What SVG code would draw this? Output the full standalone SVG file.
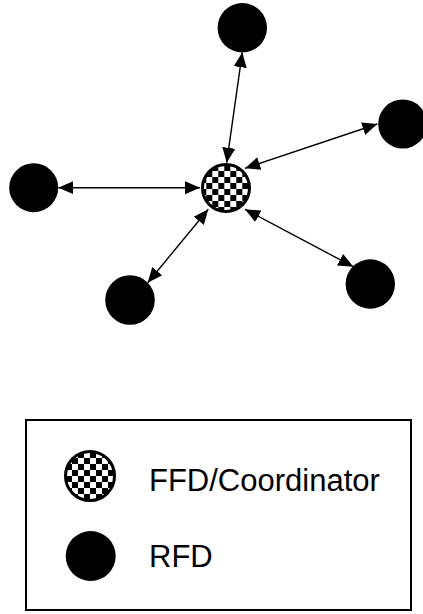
<svg xmlns="http://www.w3.org/2000/svg" width="423" height="614" viewBox="0 0 423 614">
<style>
.rfd{fill:#000}
.ffd{fill:url(#chk);stroke:#000;stroke-width:3}
.ffd2{fill:url(#chk2);stroke:#000;stroke-width:3}
.conn line{stroke:#000;stroke-width:1.4;marker-start:url(#ah);marker-end:url(#ah)}
.lbl{font-family:"Liberation Sans",Arial,sans-serif;font-size:31px;fill:#000}
</style>
<defs>
<pattern id="chk" patternUnits="userSpaceOnUse" x="212.3" y="165" width="12" height="12">
<rect width="12" height="12" fill="#fff"/>
<rect width="6" height="6" fill="#000"/>
<rect x="6" y="6" width="6" height="6" fill="#000"/>
</pattern>
<pattern id="chk2" patternUnits="userSpaceOnUse" x="78" y="452" width="12" height="12">
<rect width="12" height="12" fill="#fff"/>
<rect width="6" height="6" fill="#000"/>
<rect x="6" y="6" width="6" height="6" fill="#000"/>
</pattern>
<marker id="ah" markerUnits="userSpaceOnUse" markerWidth="16" markerHeight="14" refX="15" refY="7" orient="auto-start-reverse" viewBox="0 0 16 14">
<path d="M0,0.5 L15,7 L0,13.5 Z" fill="#000"/>
</marker>
</defs>
<g class="conn" id="connectors">
<line x1="226.7" y1="162.7" x2="242.3" y2="52.3"/>
<line x1="245" y1="168.3" x2="377.3" y2="124"/>
<line x1="200" y1="187.7" x2="58.3" y2="187.7"/>
<line x1="208.3" y1="209.3" x2="147.7" y2="282.7"/>
<line x1="245" y1="209.3" x2="353.3" y2="266.7"/>
</g>
<g id="coordinator"><circle class="ffd" cx="226" cy="188" r="23.5"/></g>
<g id="rfd-top"><circle class="rfd" cx="242.3" cy="27.7" r="24.7"/></g>
<g id="rfd-right"><circle class="rfd" cx="402.7" cy="124" r="24.5"/></g>
<g id="rfd-left"><circle class="rfd" cx="33.7" cy="187.7" r="24.5"/></g>
<g id="rfd-bottom-left"><circle class="rfd" cx="130" cy="300" r="24.8"/></g>
<g id="rfd-bottom-right"><circle class="rfd" cx="370.3" cy="284" r="24.7"/></g>
<g id="legend">
<rect x="26" y="420" width="385" height="190" fill="none" stroke="#000" stroke-width="2"/>
<circle class="ffd2" cx="90" cy="476" r="24.5"/>
<circle class="rfd" cx="90.7" cy="556" r="25"/>
<text class="lbl" x="149" y="491">FFD/Coordinator</text>
<text class="lbl" x="149" y="567">RFD</text>
</g>
</svg>
